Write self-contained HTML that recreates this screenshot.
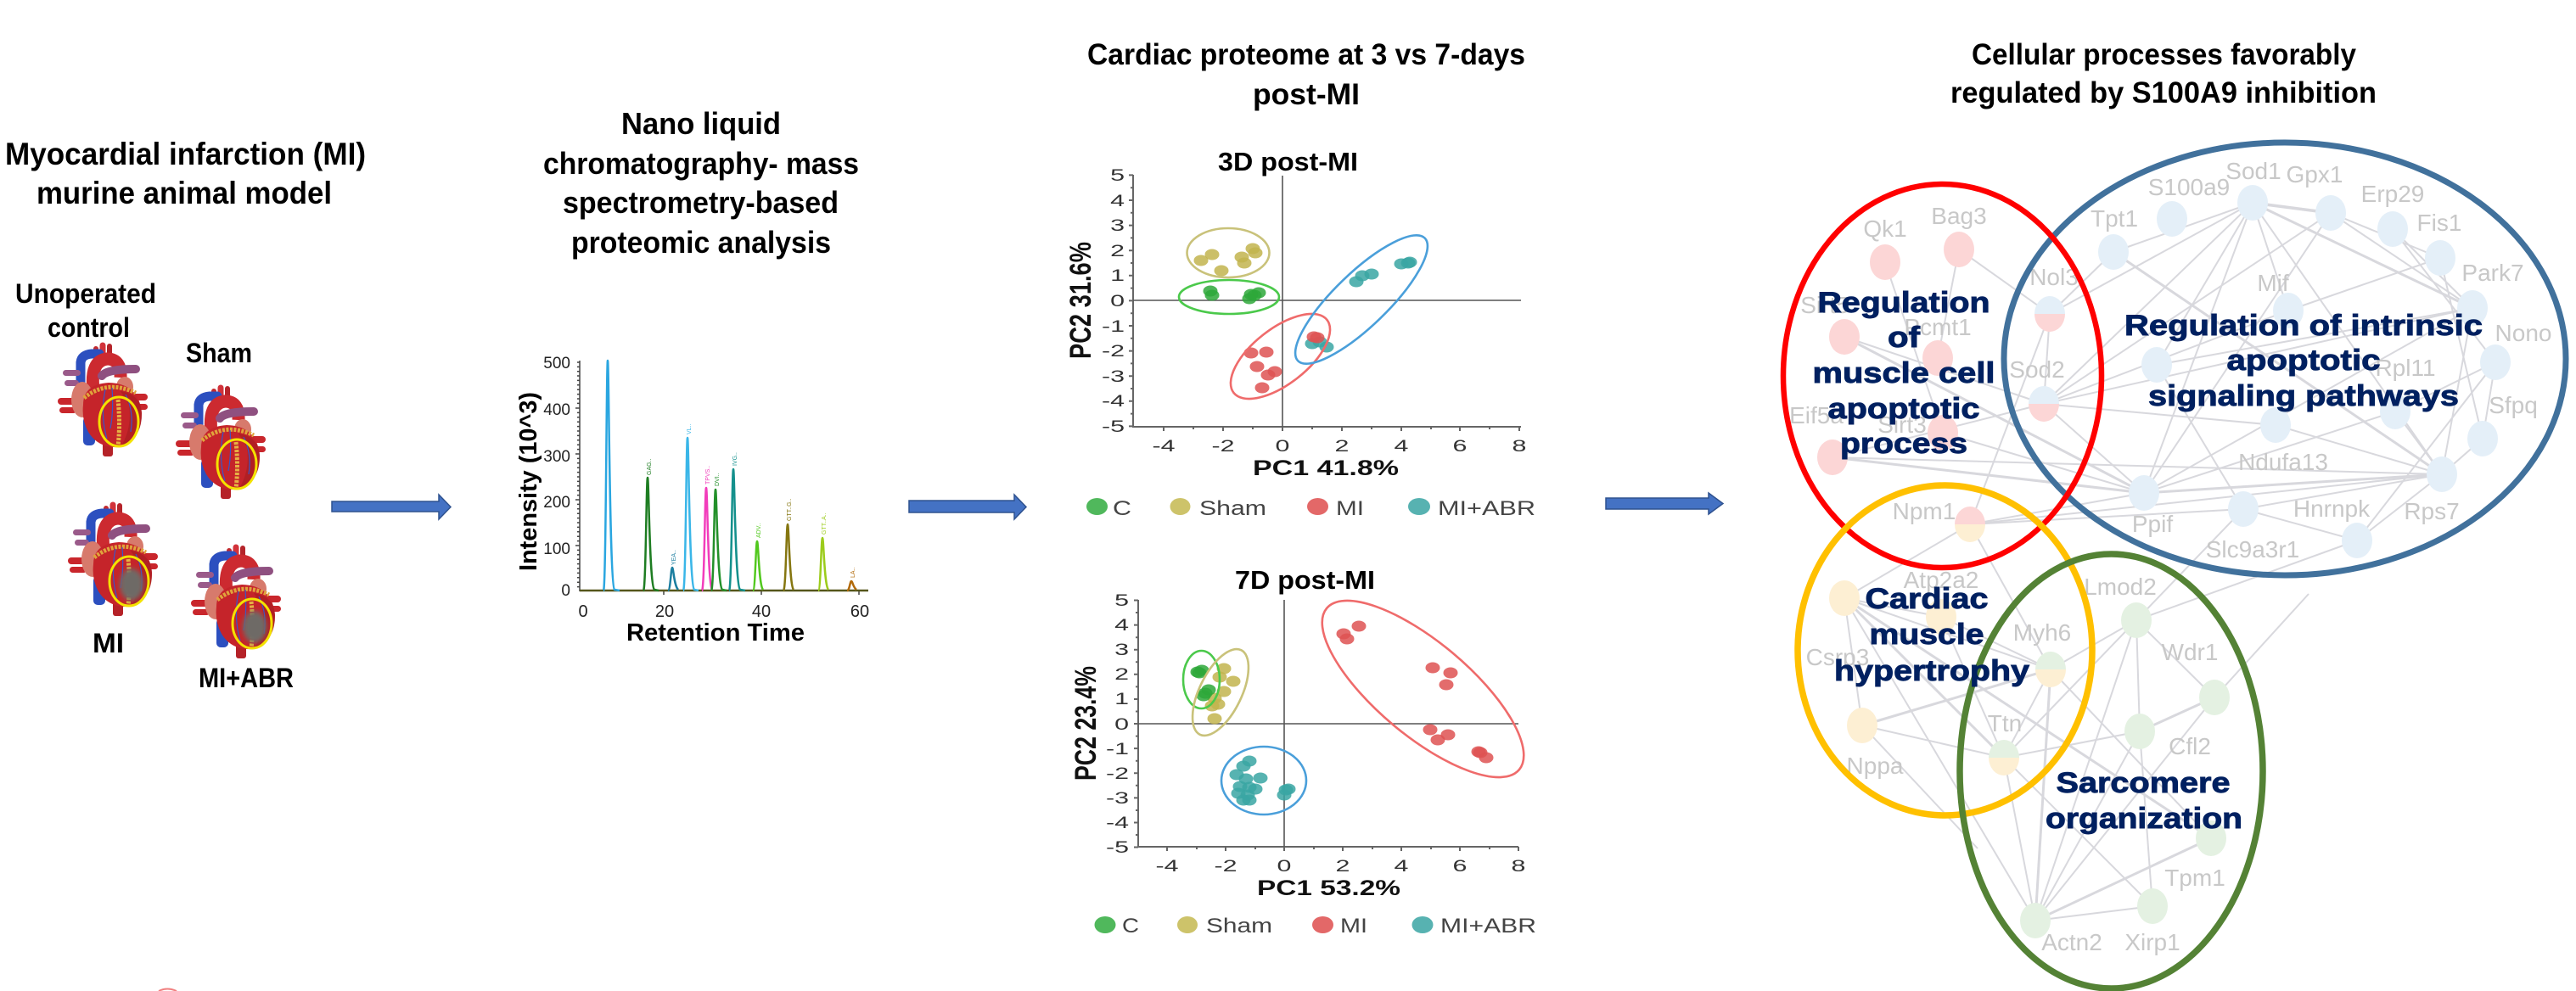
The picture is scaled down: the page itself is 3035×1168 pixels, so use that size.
<!DOCTYPE html>
<html><head><meta charset="utf-8"><style>
html,body{margin:0;padding:0;background:#fff;}
svg{display:block;}
text{font-family:"Liberation Sans",Arial,sans-serif;}
</style></head><body>
<svg width="3035" height="1168" viewBox="0 0 3035 1168" xmlns="http://www.w3.org/2000/svg">
<defs>
<filter id="blur3" x="-50%" y="-50%" width="200%" height="200%"><feGaussianBlur stdDeviation="3"/></filter>
<g id="heart">
<path d="M46 22 L45 6" stroke="#c22a2f" stroke-width="6" stroke-linecap="round"/>
<path d="M53 20 L53 2" stroke="#d2323a" stroke-width="7" stroke-linecap="round"/>
<path d="M61 20 L61 3" stroke="#b5242a" stroke-width="6" stroke-linecap="round"/>
<path d="M27 58 L27 22 Q28 13 40 12 L49 12" stroke="#2c4fbf" stroke-width="11" fill="none" stroke-linecap="round"/>
<path d="M42 55 Q38 20 58 18 Q75 18 74 40" stroke="#cc2a30" stroke-width="15" fill="none"/>
<rect x="6" y="31" width="21" height="7" rx="3.5" fill="#9a5a8a"/>
<rect x="8" y="43" width="17" height="7" rx="3.5" fill="#9a5a8a"/>
<path d="M52 38 Q58 30 92 30" stroke="#8f5080" stroke-width="10" fill="none" stroke-linecap="round"/>
<rect x="0" y="64" width="22" height="8" rx="4" fill="#c9262c"/>
<rect x="2" y="75" width="20" height="7" rx="3.5" fill="#c9262c"/>
<rect x="84" y="59" width="22" height="8" rx="4" fill="#c9262c"/>
<rect x="86" y="71" width="20" height="7" rx="3.5" fill="#c9262c"/>
<rect x="30" y="86" width="14" height="34" rx="5" fill="#2c4fbf"/>
<rect x="53" y="108" width="12" height="25" rx="3" fill="#b52228"/>
<ellipse cx="29" cy="66" rx="13" ry="21" fill="#d77a6c"/>
<ellipse cx="79" cy="51" rx="10" ry="12" fill="#d77a6c"/>
<path d="M30 72 Q30 48 60 46 Q96 47 99 82 Q99 112 74 122 Q48 124 36 104 Q28 90 30 72 Z" fill="#c5242a"/>
<path d="M74 56 Q99 60 99 84 Q99 112 74 122 Q88 100 84 72 Z" fill="#a31c22" opacity="0.6"/>
<path d="M31 64 Q58 42 92 58" stroke="#e0a43c" stroke-width="5" fill="none" stroke-dasharray="3 1.5"/>
<path d="M71 66 Q74 95 71 121" stroke="#e6b244" stroke-width="5" fill="none" stroke-dasharray="3 1.5"/>
<path d="M56 54 Q50 85 58 112 M80 60 Q90 80 86 104 M64 52 Q66 80 62 100" stroke="#3a55c8" stroke-width="1.2" fill="none"/>
</g>
</defs>

<!-- ===== Panel 1 text ===== -->
<g font-weight="bold" fill="#000">
<text x="6" y="194" font-size="37" textLength="425" lengthAdjust="spacingAndGlyphs">Myocardial infarction (MI)</text>
<text x="43" y="240" font-size="37" textLength="348" lengthAdjust="spacingAndGlyphs">murine animal model</text>
<text x="18" y="357" font-size="32" textLength="166" lengthAdjust="spacingAndGlyphs">Unoperated</text>
<text x="56" y="397" font-size="32" textLength="97" lengthAdjust="spacingAndGlyphs">control</text>
<text x="219" y="427" font-size="32" textLength="78" lengthAdjust="spacingAndGlyphs">Sham</text>
<text x="109" y="769" font-size="32" textLength="37" lengthAdjust="spacingAndGlyphs">MI</text>
<text x="234" y="810" font-size="32" textLength="112" lengthAdjust="spacingAndGlyphs">MI+ABR</text>
</g>

<!-- hearts -->
<use href="#heart" transform="translate(68,405)"/>
<ellipse cx="140" cy="497" rx="23" ry="29" fill="none" stroke="#f4e200" stroke-width="3"/>
<use href="#heart" transform="translate(207,455)"/>
<ellipse cx="279" cy="547" rx="23" ry="29" fill="none" stroke="#f4e200" stroke-width="3"/>
<use href="#heart" transform="translate(80,593)"/>
<ellipse cx="155" cy="689" rx="14" ry="19" fill="#6e6a66" filter="url(#blur3)"/>
<ellipse cx="152" cy="685" rx="23" ry="29" fill="none" stroke="#f4e200" stroke-width="3"/>
<use href="#heart" transform="translate(225,643)"/>
<ellipse cx="300" cy="739" rx="14" ry="19" fill="#6e6a66" filter="url(#blur3)"/>
<ellipse cx="297" cy="735" rx="23" ry="29" fill="none" stroke="#f4e200" stroke-width="3"/>

<path d="M187 1168 Q197 1163 208 1168" stroke="#f08080" stroke-width="2" fill="none"/>

<!-- arrows -->
<polygon points="391,591 517,591 517,583 531,597.5 517,612 517,603 391,603" fill="#4472c4" stroke="#2f528f" stroke-width="1.5"/>
<polygon points="1071,590 1195,590 1195,583 1209,597.5 1195,612 1195,604 1071,604" fill="#4472c4" stroke="#2f528f" stroke-width="1.5"/>
<polygon points="1892,587 2013,587 2013,581 2030,593.5 2013,606 2013,600 1892,600" fill="#4472c4" stroke="#2f528f" stroke-width="1.5"/>

<!-- ===== Panel 2: chromatogram ===== -->
<g font-weight="bold" fill="#000">
<text x="732" y="158" font-size="36" textLength="188" lengthAdjust="spacingAndGlyphs">Nano liquid</text>
<text x="640" y="205" font-size="36" textLength="372" lengthAdjust="spacingAndGlyphs">chromatography- mass</text>
<text x="663" y="251" font-size="36" textLength="325" lengthAdjust="spacingAndGlyphs">spectrometry-based</text>
<text x="673" y="298" font-size="36" textLength="306" lengthAdjust="spacingAndGlyphs">proteomic analysis</text>
</g>
<g stroke="#444" stroke-width="1.5">
<line x1="683" y1="425" x2="683" y2="697"/>
<path d="M680 427h3M680 432.4h3M680 437.7h3M680 443h3M680 448.4h3M680 453.8h3M680 459.2h3M680 464.6h3M680 470h3M680 475.4h3M678 481h5M680 486.4h3M680 491.8h3M680 497.2h3M680 502.6h3M680 508h3M680 513.4h3M680 518.8h3M680 524.2h3M680 529.6h3M678 535h5M680 540.4h3M680 545.8h3M680 551.2h3M680 556.6h3M680 562h3M680 567.4h3M680 572.8h3M680 578.2h3M680 583.6h3M678 589h5M680 594.4h3M680 599.8h3M680 605.2h3M680 610.6h3M680 616h3M680 621.4h3M680 626.8h3M680 632.2h3M680 637.6h3M678 643h5M680 648.4h3M680 653.8h3M680 659.2h3M680 664.6h3M680 670h3M680 675.4h3M680 680.8h3M680 686.2h3M680 691.6h3"/>
<path d="M782 696v5M897 696v5M1012 696v5"/>
</g>
<line x1="683" y1="696" x2="1023" y2="696" stroke="#55561a" stroke-width="2.5"/>
<g fill="none" stroke-width="2.5">
<path d="M711 696 C714 696 714.5 425 716 425 C717.5 425 718 690 724 695 L730 696" stroke="#2aa6e0"/>
<path d="M758 696 C761 696 761.5 563 763 563 C764.5 563 765 690 771 695 L776 696" stroke="#1e7d22"/>
<path d="M787 696 C790 696 790.5 669 792 669 C793.5 669 794 690 799 695" stroke="#1b7ea0"/>
<path d="M805 696 C808 696 808.5 516 810 516 C811.5 516 812 690 818 695 L823 696" stroke="#3ab6e8"/>
<path d="M827 696 C830 696 830.5 575 832 575 C833.5 575 834 690 839 695" stroke="#f23dbb"/>
<path d="M838 696 C841 696 841.5 577 843 577 C844.5 577 845 690 851 695 L856 696" stroke="#23902a"/>
<path d="M859 696 C862 696 862.5 553 864 553 C865.5 553 866 690 872 695 L878 696" stroke="#14908c"/>
<path d="M887 696 C890 696 890.5 638 892 638 C893.5 638 894 690 899 695" stroke="#52c81e"/>
<path d="M923 696 C926 696 926.5 618 928 618 C929.5 618 930 690 935 695" stroke="#857610"/>
<path d="M964 696 C967 696 967.5 634 969 634 C970.5 634 971 690 976 695" stroke="#9ccc1c"/>
<path d="M998 696 C1001 696 1001.5 685 1003 685 C1004.5 685 1005 692 1009 695" stroke="#b26a0a"/>
</g>
<g font-size="7">
<text transform="translate(767,560) rotate(-90)" fill="#1e7d22">GAG..</text>
<text transform="translate(796,666) rotate(-90)" fill="#1b7ea0">YEA..</text>
<text transform="translate(814,512) rotate(-90)" fill="#3ab6e8">VL..</text>
<text transform="translate(836,571) rotate(-90)" fill="#f23dbb">TPVS..</text>
<text transform="translate(847,573) rotate(-90)" fill="#23902a">DVI..</text>
<text transform="translate(868,549) rotate(-90)" fill="#14908c">IVG..</text>
<text transform="translate(896,634) rotate(-90)" fill="#52c81e">ADV..</text>
<text transform="translate(932,614) rotate(-90)" fill="#857610">GTT..G..</text>
<text transform="translate(973,630) rotate(-90)" fill="#9ccc1c">GTT..A..</text>
<text transform="translate(1007,681) rotate(-90)" fill="#b26a0a">LA..</text>
</g>
<g font-size="19" fill="#222" text-anchor="end">
<text x="672" y="434">500</text>
<text x="672" y="489">400</text>
<text x="672" y="544">300</text>
<text x="672" y="598">200</text>
<text x="672" y="653">100</text>
<text x="672" y="702">0</text>
</g>
<g font-size="20" fill="#222" text-anchor="middle">
<text x="687" y="727">0</text>
<text x="783" y="727">20</text>
<text x="897" y="727">40</text>
<text x="1013" y="727">60</text>
</g>
<text x="738" y="755" font-size="29" font-weight="bold" textLength="210" lengthAdjust="spacingAndGlyphs">Retention Time</text>
<text transform="translate(632,673) rotate(-90)" font-size="29" font-weight="bold" textLength="211" lengthAdjust="spacingAndGlyphs">Intensity (10^3)</text>

<!-- ===== Panel 3: PCA ===== -->
<g font-weight="bold" fill="#000">
<text x="1281" y="76" font-size="35" textLength="516" lengthAdjust="spacingAndGlyphs">Cardiac proteome at 3 vs 7-days</text>
<text x="1476" y="123" font-size="35" textLength="126" lengthAdjust="spacingAndGlyphs">post-MI</text>
<text x="1435" y="201" font-size="31" textLength="165" lengthAdjust="spacingAndGlyphs">3D post-MI</text>
<text x="1455" y="694" font-size="31" textLength="165" lengthAdjust="spacingAndGlyphs">7D post-MI</text>
</g>

<!-- 3D plot axes -->
<g stroke="#666" stroke-width="2" fill="none">
<path d="M1335 206 V503 H1792"/>
<path d="M1330 206.4h5M1332 221.2h3M1330 236h5M1332 250.8h3M1330 265.6h5M1332 280.4h3M1330 295.2h5M1332 310h3M1330 324.8h5M1332 339.6h3M1330 354.4h5M1332 369.2h3M1330 384h5M1332 398.8h3M1330 413.6h5M1332 428.4h3M1330 443.2h5M1332 458h3M1330 472.8h5M1332 487.6h3M1330 502.4h5"/>
<path d="M1371 503v5M1406 503v3M1441 503v5M1476 503v3M1511 503v5M1546 503v3M1581 503v5M1616 503v3M1651 503v5M1686 503v3M1720 503v5M1755 503v3M1790 503v5"/>
</g>
<g stroke="#555" stroke-width="1.6">
<line x1="1335" y1="354" x2="1792" y2="354"/>
<line x1="1511" y1="207" x2="1511" y2="503"/>
</g>
<g font-size="19" fill="#333" text-anchor="end">
<text transform="translate(1325,213) scale(1.6,1)">5</text>
<text transform="translate(1325,243) scale(1.6,1)">4</text>
<text transform="translate(1325,272) scale(1.6,1)">3</text>
<text transform="translate(1325,302) scale(1.6,1)">2</text>
<text transform="translate(1325,331) scale(1.6,1)">1</text>
<text transform="translate(1325,361) scale(1.6,1)">0</text>
<text transform="translate(1325,391) scale(1.6,1)">-1</text>
<text transform="translate(1325,420) scale(1.6,1)">-2</text>
<text transform="translate(1325,450) scale(1.6,1)">-3</text>
<text transform="translate(1325,479) scale(1.6,1)">-4</text>
<text transform="translate(1325,509) scale(1.6,1)">-5</text>
</g>
<g font-size="19" fill="#333" text-anchor="middle">
<text transform="translate(1371,532) scale(1.6,1)">-4</text>
<text transform="translate(1441,532) scale(1.6,1)">-2</text>
<text transform="translate(1511,532) scale(1.6,1)">0</text>
<text transform="translate(1581,532) scale(1.6,1)">2</text>
<text transform="translate(1651,532) scale(1.6,1)">4</text>
<text transform="translate(1720,532) scale(1.6,1)">6</text>
<text transform="translate(1790,532) scale(1.6,1)">8</text>
</g>
<text x="1476" y="560" font-size="25" font-weight="bold" fill="#111" textLength="172" lengthAdjust="spacingAndGlyphs">PC1 41.8%</text>
<text transform="translate(1285,423) rotate(-90) scale(1,1.4)" font-size="25" font-weight="bold" fill="#111" textLength="138" lengthAdjust="spacingAndGlyphs">PC2 31.6%</text>

<!-- 3D points -->
<g fill-opacity="0.85">
<g fill="#c2b44e">
<ellipse cx="1415" cy="307" rx="8.5" ry="6.5"/><ellipse cx="1428" cy="300" rx="8.5" ry="6.5"/><ellipse cx="1439" cy="319" rx="8.5" ry="6.5"/><ellipse cx="1463" cy="303" rx="8.5" ry="6.5"/><ellipse cx="1466" cy="310" rx="8.5" ry="6.5"/><ellipse cx="1476" cy="293" rx="8.5" ry="6.5"/><ellipse cx="1479" cy="298" rx="8.5" ry="6.5"/>
</g>
<g fill="#2ea83a">
<ellipse cx="1426" cy="343" rx="8.5" ry="6.5"/><ellipse cx="1428" cy="348" rx="8.5" ry="6.5"/><ellipse cx="1472" cy="352" rx="8.5" ry="6.5"/><ellipse cx="1478" cy="348" rx="8.5" ry="6.5"/><ellipse cx="1483" cy="345" rx="8.5" ry="6.5"/><ellipse cx="1474" cy="347" rx="8.5" ry="6.5"/>
</g>
<g fill="#3aa6a3">
<ellipse cx="1598" cy="332" rx="8.5" ry="6.5"/><ellipse cx="1605" cy="325" rx="8.5" ry="6.5"/><ellipse cx="1616" cy="323" rx="8.5" ry="6.5"/><ellipse cx="1651" cy="311" rx="8.5" ry="6.5"/><ellipse cx="1659" cy="310" rx="8.5" ry="6.5"/><ellipse cx="1661" cy="309" rx="8.5" ry="6.5"/><ellipse cx="1546" cy="405" rx="8.5" ry="6.5"/><ellipse cx="1563" cy="409" rx="8.5" ry="6.5"/><ellipse cx="1555" cy="403" rx="8.5" ry="6.5"/>
</g>
<g fill="#de5252">
<ellipse cx="1474" cy="416" rx="8.5" ry="6.5"/><ellipse cx="1492" cy="415" rx="8.5" ry="6.5"/><ellipse cx="1481" cy="432" rx="8.5" ry="6.5"/><ellipse cx="1494" cy="442" rx="8.5" ry="6.5"/><ellipse cx="1502" cy="438" rx="8.5" ry="6.5"/><ellipse cx="1487" cy="457" rx="8.5" ry="6.5"/><ellipse cx="1548" cy="397" rx="8.5" ry="6.5"/><ellipse cx="1552" cy="398" rx="8.5" ry="6.5"/>
</g>
</g>
<g fill="none" stroke-width="2.6">
<ellipse cx="1447" cy="298" rx="48.5" ry="29" stroke="#c9c27a"/>
<ellipse cx="1448" cy="350" rx="59" ry="20" stroke="#4bc94b"/>
<ellipse cx="0" cy="0" rx="69.8" ry="32.5" stroke="#ef6b6b" transform="translate(1508.5,420) rotate(-38)"/>
<ellipse cx="0" cy="0" rx="104" ry="31.4" stroke="#4a9fda" transform="translate(1604,353) rotate(-44)"/>
</g>
<!-- 3D legend -->
<g fill-opacity="0.9">
<ellipse cx="1292.5" cy="597" rx="12.5" ry="10" fill="#3db04a"/>
<ellipse cx="1390.5" cy="597" rx="12" ry="10" fill="#c8bd5a"/>
<ellipse cx="1552.5" cy="597" rx="12.5" ry="10" fill="#e05858"/>
<ellipse cx="1672" cy="597" rx="13" ry="10" fill="#45aaa8"/>
</g>
<g font-size="24" fill="#444">
<text x="1311" y="607" textLength="22" lengthAdjust="spacingAndGlyphs">C</text>
<text x="1413" y="607" textLength="79" lengthAdjust="spacingAndGlyphs">Sham</text>
<text x="1574" y="607" textLength="33" lengthAdjust="spacingAndGlyphs">MI</text>
<text x="1694" y="607" textLength="115" lengthAdjust="spacingAndGlyphs">MI+ABR</text>
</g>

<!-- 7D plot axes -->
<g stroke="#666" stroke-width="2" fill="none">
<path d="M1341 707 V998 H1789"/>
<path d="M1336 707.5h5M1338 722h3M1336 736.6h5M1338 751.2h3M1336 765.7h5M1338 780.3h3M1336 794.8h5M1338 809.4h3M1336 824h5M1338 838.5h3M1336 853h5M1338 867.6h3M1336 882.1h5M1338 896.7h3M1336 911.3h5M1338 925.8h3M1336 940.4h5M1338 955h3M1336 969.5h5M1338 984h3M1336 998.5h5"/>
<path d="M1375 998v5M1410 998v3M1444 998v5M1479 998v3M1513 998v5M1548 998v3M1582 998v5M1617 998v3M1651 998v5M1686 998v3M1720 998v5M1755 998v3M1789 998v5"/>
</g>
<g stroke="#555" stroke-width="1.6">
<line x1="1341" y1="853" x2="1789" y2="853"/>
<line x1="1513" y1="707" x2="1513" y2="998"/>
</g>
<g font-size="19" fill="#333" text-anchor="end">
<text transform="translate(1330,714) scale(1.6,1)">5</text>
<text transform="translate(1330,743) scale(1.6,1)">4</text>
<text transform="translate(1330,772) scale(1.6,1)">3</text>
<text transform="translate(1330,801) scale(1.6,1)">2</text>
<text transform="translate(1330,830) scale(1.6,1)">1</text>
<text transform="translate(1330,860) scale(1.6,1)">0</text>
<text transform="translate(1330,889) scale(1.6,1)">-1</text>
<text transform="translate(1330,918) scale(1.6,1)">-2</text>
<text transform="translate(1330,947) scale(1.6,1)">-3</text>
<text transform="translate(1330,976) scale(1.6,1)">-4</text>
<text transform="translate(1330,1005) scale(1.6,1)">-5</text>
</g>
<g font-size="19" fill="#333" text-anchor="middle">
<text transform="translate(1375,1027) scale(1.6,1)">-4</text>
<text transform="translate(1444,1027) scale(1.6,1)">-2</text>
<text transform="translate(1513,1027) scale(1.6,1)">0</text>
<text transform="translate(1582,1027) scale(1.6,1)">2</text>
<text transform="translate(1651,1027) scale(1.6,1)">4</text>
<text transform="translate(1720,1027) scale(1.6,1)">6</text>
<text transform="translate(1789,1027) scale(1.6,1)">8</text>
</g>
<text x="1481" y="1055" font-size="25" font-weight="bold" fill="#111" textLength="169" lengthAdjust="spacingAndGlyphs">PC1 53.2%</text>
<text transform="translate(1291,920) rotate(-90) scale(1,1.4)" font-size="25" font-weight="bold" fill="#111" textLength="135" lengthAdjust="spacingAndGlyphs">PC2 23.4%</text>

<!-- 7D points -->
<g fill-opacity="0.85">
<g fill="#c2b44e">
<ellipse cx="1442" cy="788" rx="8.5" ry="6.5"/><ellipse cx="1437" cy="798" rx="8.5" ry="6.5"/><ellipse cx="1453" cy="803" rx="8.5" ry="6.5"/><ellipse cx="1442" cy="815" rx="8.5" ry="6.5"/><ellipse cx="1431" cy="823" rx="8.5" ry="6.5"/><ellipse cx="1435" cy="830" rx="8.5" ry="6.5"/><ellipse cx="1428" cy="832" rx="8.5" ry="6.5"/><ellipse cx="1431" cy="847" rx="8.5" ry="6.5"/>
</g>
<g fill="#2ea83a">
<ellipse cx="1411" cy="792" rx="8.5" ry="6.5"/><ellipse cx="1416" cy="790" rx="8.5" ry="6.5"/><ellipse cx="1413" cy="793" rx="8.5" ry="6.5"/><ellipse cx="1424" cy="813" rx="8.5" ry="6.5"/><ellipse cx="1420" cy="817" rx="8.5" ry="6.5"/><ellipse cx="1418" cy="820" rx="8.5" ry="6.5"/>
</g>
<g fill="#3aa6a3">
<ellipse cx="1472" cy="897" rx="8.5" ry="6.5"/><ellipse cx="1465" cy="903" rx="8.5" ry="6.5"/><ellipse cx="1457" cy="913" rx="8.5" ry="6.5"/><ellipse cx="1468" cy="918" rx="8.5" ry="6.5"/><ellipse cx="1485" cy="917" rx="8.5" ry="6.5"/><ellipse cx="1461" cy="927" rx="8.5" ry="6.5"/><ellipse cx="1472" cy="928" rx="8.5" ry="6.5"/><ellipse cx="1479" cy="930" rx="8.5" ry="6.5"/><ellipse cx="1459" cy="935" rx="8.5" ry="6.5"/><ellipse cx="1470" cy="937" rx="8.5" ry="6.5"/><ellipse cx="1465" cy="943" rx="8.5" ry="6.5"/><ellipse cx="1472" cy="943" rx="8.5" ry="6.5"/><ellipse cx="1515" cy="931" rx="8.5" ry="6.5"/><ellipse cx="1518" cy="930" rx="8.5" ry="6.5"/><ellipse cx="1513" cy="937" rx="8.5" ry="6.5"/>
</g>
<g fill="#de5252">
<ellipse cx="1583" cy="747" rx="8.5" ry="6.5"/><ellipse cx="1587" cy="753" rx="8.5" ry="6.5"/><ellipse cx="1601" cy="738" rx="8.5" ry="6.5"/><ellipse cx="1688" cy="787" rx="8.5" ry="6.5"/><ellipse cx="1709" cy="793" rx="8.5" ry="6.5"/><ellipse cx="1704" cy="807" rx="8.5" ry="6.5"/><ellipse cx="1685" cy="860" rx="8.5" ry="6.5"/><ellipse cx="1694" cy="872" rx="8.5" ry="6.5"/><ellipse cx="1706" cy="866" rx="8.5" ry="6.5"/><ellipse cx="1742" cy="886" rx="8.5" ry="6.5"/><ellipse cx="1744" cy="887" rx="8.5" ry="6.5"/><ellipse cx="1751" cy="893" rx="8.5" ry="6.5"/>
</g>
</g>
<g fill="none" stroke-width="2.6">
<ellipse cx="1415.5" cy="801" rx="21.5" ry="34" stroke="#4bc94b"/>
<ellipse cx="0" cy="0" rx="24.8" ry="55.4" stroke="#c9c27a" transform="translate(1438,816) rotate(26)"/>
<ellipse cx="1489" cy="920" rx="50" ry="40" stroke="#4a9fda"/>
<ellipse cx="0" cy="0" rx="148" ry="55" stroke="#ef6b6b" transform="translate(1676.5,812) rotate(40)"/>
</g>
<!-- 7D legend -->
<g fill-opacity="0.9">
<ellipse cx="1302" cy="1090" rx="12.5" ry="10" fill="#3db04a"/>
<ellipse cx="1399" cy="1090" rx="12" ry="10" fill="#c8bd5a"/>
<ellipse cx="1558.5" cy="1090" rx="12.5" ry="10" fill="#e05858"/>
<ellipse cx="1676" cy="1090" rx="12.5" ry="10" fill="#45aaa8"/>
</g>
<g font-size="24" fill="#444">
<text x="1322" y="1099" textLength="20" lengthAdjust="spacingAndGlyphs">C</text>
<text x="1421" y="1099" textLength="78" lengthAdjust="spacingAndGlyphs">Sham</text>
<text x="1579" y="1099" textLength="32" lengthAdjust="spacingAndGlyphs">MI</text>
<text x="1697" y="1099" textLength="113" lengthAdjust="spacingAndGlyphs">MI+ABR</text>
</g>

<!-- ===== Panel 4: network ===== -->
<g font-weight="bold" fill="#000">
<text x="2323" y="76" font-size="35" textLength="453" lengthAdjust="spacingAndGlyphs">Cellular processes favorably</text>
<text x="2298" y="121" font-size="35" textLength="502" lengthAdjust="spacingAndGlyphs">regulated by S100A9 inhibition</text>
</g>

<g stroke="#d8d8dd" stroke-width="2" fill="none">
<line x1="2654" y1="239" x2="2746" y2="251" stroke-width="3.5"/>
<line x1="2654" y1="239" x2="2490" y2="297"/>
<line x1="2654" y1="239" x2="2913" y2="363" stroke-width="3"/>
<line x1="2654" y1="239" x2="2877" y2="559"/>
<line x1="2654" y1="239" x2="2526" y2="581"/>
<line x1="2654" y1="239" x2="2541" y2="430"/>
<line x1="2654" y1="239" x2="2408" y2="476"/>
<line x1="2654" y1="239" x2="2415" y2="370"/>
<line x1="2654" y1="239" x2="2696" y2="366"/>
<line x1="2746" y1="251" x2="2408" y2="476"/>
<line x1="2746" y1="251" x2="2913" y2="363"/>
<line x1="2746" y1="251" x2="2526" y2="581"/>
<line x1="2746" y1="251" x2="2875" y2="304"/>
<line x1="2490" y1="297" x2="2877" y2="559" stroke-width="3"/>
<line x1="2490" y1="297" x2="2415" y2="370"/>
<line x1="2819" y1="270" x2="2913" y2="363"/>
<line x1="2819" y1="270" x2="2940" y2="427"/>
<line x1="2875" y1="304" x2="2696" y2="366"/>
<line x1="2875" y1="304" x2="2925" y2="517"/>
<line x1="2913" y1="363" x2="2526" y2="581"/>
<line x1="2913" y1="363" x2="2408" y2="476"/>
<line x1="2913" y1="363" x2="2541" y2="430"/>
<line x1="2913" y1="363" x2="2877" y2="559"/>
<line x1="2696" y1="366" x2="2408" y2="476"/>
<line x1="2940" y1="427" x2="2925" y2="517"/>
<line x1="2940" y1="427" x2="2822" y2="485"/>
<line x1="2940" y1="427" x2="2777" y2="637"/>
<line x1="2925" y1="517" x2="2877" y2="559"/>
<line x1="2822" y1="485" x2="2877" y2="559"/>
<line x1="2822" y1="485" x2="2526" y2="581"/>
<line x1="2877" y1="559" x2="2526" y2="581" stroke-width="3"/>
<line x1="2877" y1="559" x2="2643" y2="600"/>
<line x1="2877" y1="559" x2="2777" y2="637"/>
<line x1="2643" y1="600" x2="2777" y2="637"/>
<line x1="2681" y1="501" x2="2408" y2="476"/>
<line x1="2681" y1="501" x2="2877" y2="559"/>
<line x1="2526" y1="581" x2="2408" y2="476"/>
<line x1="2526" y1="581" x2="2159" y2="539" stroke-width="3"/>
<line x1="2526" y1="581" x2="2321" y2="618"/>
<line x1="2408" y1="476" x2="2159" y2="539"/>
<line x1="2415" y1="370" x2="2308" y2="294"/>
<line x1="2308" y1="294" x2="2283" y2="422"/>
<line x1="2221" y1="309" x2="2289" y2="510"/>
<line x1="2173" y1="397" x2="2526" y2="581" stroke-width="3"/>
<line x1="2173" y1="397" x2="2408" y2="476"/>
<line x1="2159" y1="539" x2="2877" y2="559"/>
<line x1="2321" y1="618" x2="2877" y2="559"/>
<line x1="2321" y1="618" x2="2415" y2="370"/>
<line x1="2321" y1="618" x2="2643" y2="600"/>
<line x1="2289" y1="510" x2="2526" y2="581"/>
<line x1="2541" y1="430" x2="2643" y2="600"/>
<line x1="2408" y1="476" x2="2415" y2="370"/>
<line x1="2173" y1="705" x2="2361" y2="893" stroke-width="3"/>
<line x1="2173" y1="705" x2="2416" y2="789"/>
<line x1="2173" y1="705" x2="2194" y2="855"/>
<line x1="2173" y1="705" x2="2398" y2="1085"/>
<line x1="2173" y1="705" x2="2605" y2="988" stroke-width="3"/>
<line x1="2173" y1="705" x2="2287" y2="727"/>
<line x1="2194" y1="855" x2="2416" y2="789" stroke-width="3"/>
<line x1="2194" y1="855" x2="2361" y2="893"/>
<line x1="2194" y1="855" x2="2330" y2="1000"/>
<line x1="2287" y1="727" x2="2416" y2="789"/>
<line x1="2287" y1="727" x2="2361" y2="893"/>
<line x1="2416" y1="789" x2="2398" y2="1085" stroke-width="3"/>
<line x1="2416" y1="789" x2="2361" y2="893"/>
<line x1="2416" y1="789" x2="2517" y2="731"/>
<line x1="2416" y1="789" x2="2605" y2="988"/>
<line x1="2361" y1="893" x2="2398" y2="1085"/>
<line x1="2361" y1="893" x2="2521" y2="862"/>
<line x1="2361" y1="893" x2="2517" y2="731"/>
<line x1="2361" y1="893" x2="2536" y2="1068"/>
<line x1="2398" y1="1085" x2="2517" y2="731"/>
<line x1="2398" y1="1085" x2="2609" y2="822"/>
<line x1="2398" y1="1085" x2="2605" y2="988" stroke-width="3"/>
<line x1="2398" y1="1085" x2="2536" y2="1068"/>
<line x1="2398" y1="1085" x2="2521" y2="862"/>
<line x1="2517" y1="731" x2="2521" y2="862"/>
<line x1="2517" y1="731" x2="2609" y2="822"/>
<line x1="2609" y1="822" x2="2521" y2="862" stroke-width="3"/>
<line x1="2521" y1="862" x2="2536" y2="1068"/>
<line x1="2321" y1="618" x2="2416" y2="789"/>
<line x1="2321" y1="618" x2="2173" y2="705"/>
<line x1="2609" y1="822" x2="2720" y2="700"/>
<line x1="2777" y1="637" x2="2517" y2="731"/>
<line x1="2643" y1="600" x2="2517" y2="731"/>
</g>

<!-- nodes -->
<g>
<g fill="#fcd6d6">
<ellipse cx="2221" cy="309" rx="18" ry="21"/><ellipse cx="2308" cy="294" rx="18" ry="21"/><ellipse cx="2173" cy="397" rx="18" ry="21"/><ellipse cx="2283" cy="422" rx="18" ry="21"/><ellipse cx="2289" cy="510" rx="18" ry="21"/><ellipse cx="2159" cy="539" rx="18" ry="21"/>
</g>
<g fill="#e4eff8">
<ellipse cx="2490" cy="297" rx="18" ry="21"/><ellipse cx="2559" cy="258" rx="18" ry="21"/><ellipse cx="2654" cy="239" rx="18" ry="21"/><ellipse cx="2746" cy="251" rx="18" ry="21"/><ellipse cx="2819" cy="270" rx="18" ry="21"/><ellipse cx="2875" cy="304" rx="18" ry="21"/><ellipse cx="2913" cy="363" rx="18" ry="21"/><ellipse cx="2696" cy="366" rx="18" ry="21"/><ellipse cx="2541" cy="430" rx="18" ry="21"/><ellipse cx="2940" cy="427" rx="18" ry="21"/><ellipse cx="2822" cy="485" rx="18" ry="21"/><ellipse cx="2925" cy="517" rx="18" ry="21"/><ellipse cx="2681" cy="501" rx="18" ry="21"/><ellipse cx="2877" cy="559" rx="18" ry="21"/><ellipse cx="2526" cy="581" rx="18" ry="21"/><ellipse cx="2643" cy="600" rx="18" ry="21"/><ellipse cx="2777" cy="637" rx="18" ry="21"/>
</g>
<g fill="#fdefd3">
<ellipse cx="2173" cy="705" rx="18" ry="21"/><ellipse cx="2287" cy="727" rx="18" ry="21"/><ellipse cx="2194" cy="855" rx="18" ry="21"/>
</g>
<g fill="#e4f1e2">
<ellipse cx="2517" cy="731" rx="18" ry="21"/><ellipse cx="2609" cy="822" rx="18" ry="21"/><ellipse cx="2521" cy="862" rx="18" ry="21"/><ellipse cx="2605" cy="988" rx="18" ry="21"/><ellipse cx="2536" cy="1068" rx="18" ry="21"/><ellipse cx="2398" cy="1085" rx="18" ry="21"/>
</g>
<!-- half nodes -->
<path d="M2397 370 A18 21 0 0 1 2433 370 Z" fill="#e4eff8"/><path d="M2397 370 A18 21 0 0 0 2433 370 Z" fill="#fcd6d6"/>
<path d="M2390 476 A18 21 0 0 1 2426 476 Z" fill="#e4eff8"/><path d="M2390 476 A18 21 0 0 0 2426 476 Z" fill="#fcd6d6"/>
<path d="M2303 618 A18 21 0 0 1 2339 618 Z" fill="#fcd6d6"/><path d="M2303 618 A18 21 0 0 0 2339 618 Z" fill="#fdefd3"/>
<path d="M2398 789 A18 21 0 0 1 2434 789 Z" fill="#e4f1e2"/><path d="M2398 789 A18 21 0 0 0 2434 789 Z" fill="#fdefd3"/>
<path d="M2343 893 A18 21 0 0 1 2379 893 Z" fill="#e4f1e2"/><path d="M2343 893 A18 21 0 0 0 2379 893 Z" fill="#fdefd3"/>
</g>

<!-- node labels -->
<g font-size="28" fill="#c8c8c8" text-anchor="middle">
<text x="2221" y="279">Qk1</text>
<text x="2308" y="264">Bag3</text>
<text x="2150" y="369">Sirt5</text>
<text x="2283" y="395">Pcmt1</text>
<text x="2140" y="499">Eif5a</text>
<text x="2241" y="510">Sirt3</text>
<text x="2420" y="336">Nol3</text>
<text x="2400" y="445">Sod2</text>
<text x="2267" y="612">Npm1</text>
<text x="2287" y="693">Atp2a2</text>
<text x="2579" y="230">S100a9</text>
<text x="2655" y="211">Sod1</text>
<text x="2727" y="215">Gpx1</text>
<text x="2819" y="238">Erp29</text>
<text x="2491" y="267">Tpt1</text>
<text x="2874" y="272">Fis1</text>
<text x="2937" y="331">Park7</text>
<text x="2678" y="343">Mif</text>
<text x="2973" y="402">Nono</text>
<text x="2834" y="443">Rpl11</text>
<text x="2961" y="487">Sfpq</text>
<text x="2690" y="554">Ndufa13</text>
<text x="2747" y="609">Hnrnpk</text>
<text x="2865" y="612">Rps7</text>
<text x="2536" y="627">Ppif</text>
<text x="2654" y="657">Slc9a3r1</text>
<text x="2498" y="701">Lmod2</text>
<text x="2406" y="755">Myh6</text>
<text x="2580" y="778">Wdr1</text>
<text x="2165" y="784">Csrp3</text>
<text x="2362" y="862">Ttn</text>
<text x="2580" y="889">Cfl2</text>
<text x="2209" y="912">Nppa</text>
<text x="2586" y="1044">Tpm1</text>
<text x="2441" y="1120">Actn2</text>
<text x="2536" y="1120">Xirp1</text>
</g>

<!-- category ellipses -->
<g fill="none">
<ellipse cx="2692" cy="423" rx="331" ry="255" stroke="#41719c" stroke-width="7"/>
<ellipse cx="2288.5" cy="443" rx="187.5" ry="226" stroke="#ff0000" stroke-width="6.5"/>
<ellipse cx="2291.5" cy="766.5" rx="173.5" ry="194.5" stroke="#ffc000" stroke-width="7.5"/>
<ellipse cx="2487.5" cy="909" rx="178.5" ry="256" stroke="#548235" stroke-width="7.5"/>
</g>

<!-- category labels -->
<g font-size="34" font-weight="bold" fill="#002060" stroke="#002060" stroke-width="0.9" text-anchor="middle">
<text x="2243" y="368" textLength="203" lengthAdjust="spacingAndGlyphs">Regulation</text>
<text x="2243" y="409" textLength="38" lengthAdjust="spacingAndGlyphs">of</text>
<text x="2243" y="451" textLength="215" lengthAdjust="spacingAndGlyphs">muscle cell</text>
<text x="2243" y="493" textLength="179" lengthAdjust="spacingAndGlyphs">apoptotic</text>
<text x="2243" y="534" textLength="150" lengthAdjust="spacingAndGlyphs">process</text>
<text x="2714" y="395" textLength="422" lengthAdjust="spacingAndGlyphs">Regulation of intrinsic</text>
<text x="2714" y="436" textLength="181" lengthAdjust="spacingAndGlyphs">apoptotic</text>
<text x="2714" y="478" textLength="366" lengthAdjust="spacingAndGlyphs">signaling pathways</text>
<text x="2270" y="717" textLength="145" lengthAdjust="spacingAndGlyphs">Cardiac</text>
<text x="2270" y="759" textLength="135" lengthAdjust="spacingAndGlyphs">muscle</text>
<text x="2276" y="802" textLength="230" lengthAdjust="spacingAndGlyphs">hypertrophy</text>
<text x="2525" y="934" textLength="205" lengthAdjust="spacingAndGlyphs">Sarcomere</text>
<text x="2526" y="976" textLength="232" lengthAdjust="spacingAndGlyphs">organization</text>
</g>
</svg>
</body></html>
